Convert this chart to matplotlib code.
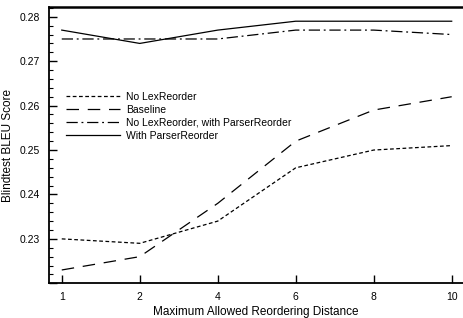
import matplotlib

matplotlib.use("Agg")
import matplotlib.pyplot as plt
from matplotlib.ticker import MultipleLocator

plt.rcParams["font.family"] = ["Liberation Sans", "DejaVu Sans"]

distances = ["1", "2", "4", "6", "8", "10"]
no_lex = [0.230, 0.229, 0.234, 0.246, 0.250, 0.251]
baseline = [0.223, 0.226, 0.238, 0.252, 0.259, 0.262]
no_lex_parser = [0.275, 0.275, 0.275, 0.277, 0.277, 0.276]
with_parser = [0.277, 0.274, 0.277, 0.279, 0.279, 0.279]

fig = plt.figure(figsize=(4.63, 3.18), dpi=100)
ax = fig.add_axes([48.5 / 463, 1 - 283.3 / 318, 1 - 48.5 / 463, (283.3 - 7) / 318])

xs = range(len(distances))
lw = 0.9
ax.plot(xs, no_lex, color="black", lw=lw, dashes=(3, 2), label="No LexReorder")
ax.plot(xs, baseline, color="black", lw=lw, dashes=(10, 7), label="Baseline")
ax.plot(xs, no_lex_parser, color="black", lw=lw, dashes=(9, 3, 1.5, 3),
        label="No LexReorder, with ParserReorder")
ax.plot(xs, with_parser, color="black", lw=lw, label="With ParserReorder")

ax.set_xlim(-0.17, 5.145)
ax.set_ylim(0.22, 0.2822)
ax.set_xticks(list(xs))
ax.set_xticklabels(distances)
ax.yaxis.set_major_locator(MultipleLocator(0.01))
ax.yaxis.set_minor_locator(MultipleLocator(0.002))
ax.yaxis.set_major_formatter(
    plt.FuncFormatter(lambda v, p: f"{v:.2f}" if 0.2255 < v <= 0.2805 else "")
)

ax.tick_params(axis="both", which="major", direction="in", length=6, width=1, labelsize=7.5, pad=6)
ax.tick_params(axis="y", which="minor", direction="in", length=3, width=0.8)
ax.tick_params(axis="x", which="minor", length=0)
ax.spines["right"].set_visible(False)
ax.spines["top"].set_linewidth(1.8)
ax.spines["left"].set_linewidth(1.3)
ax.spines["bottom"].set_linewidth(1.3)

ax.set_xlabel("Maximum Allowed Reordering Distance", fontsize=8.5, labelpad=3)
ax.set_ylabel("Blindtest BLEU Score", fontsize=8.5, labelpad=4)

ax.legend(loc="upper left", bbox_to_anchor=(0.024, 0.72), frameon=False, fontsize=7.5,
          handlelength=5.2, handletextpad=0.6, labelspacing=0.3, borderaxespad=0.3)

fig.savefig("out.png", dpi=100)
